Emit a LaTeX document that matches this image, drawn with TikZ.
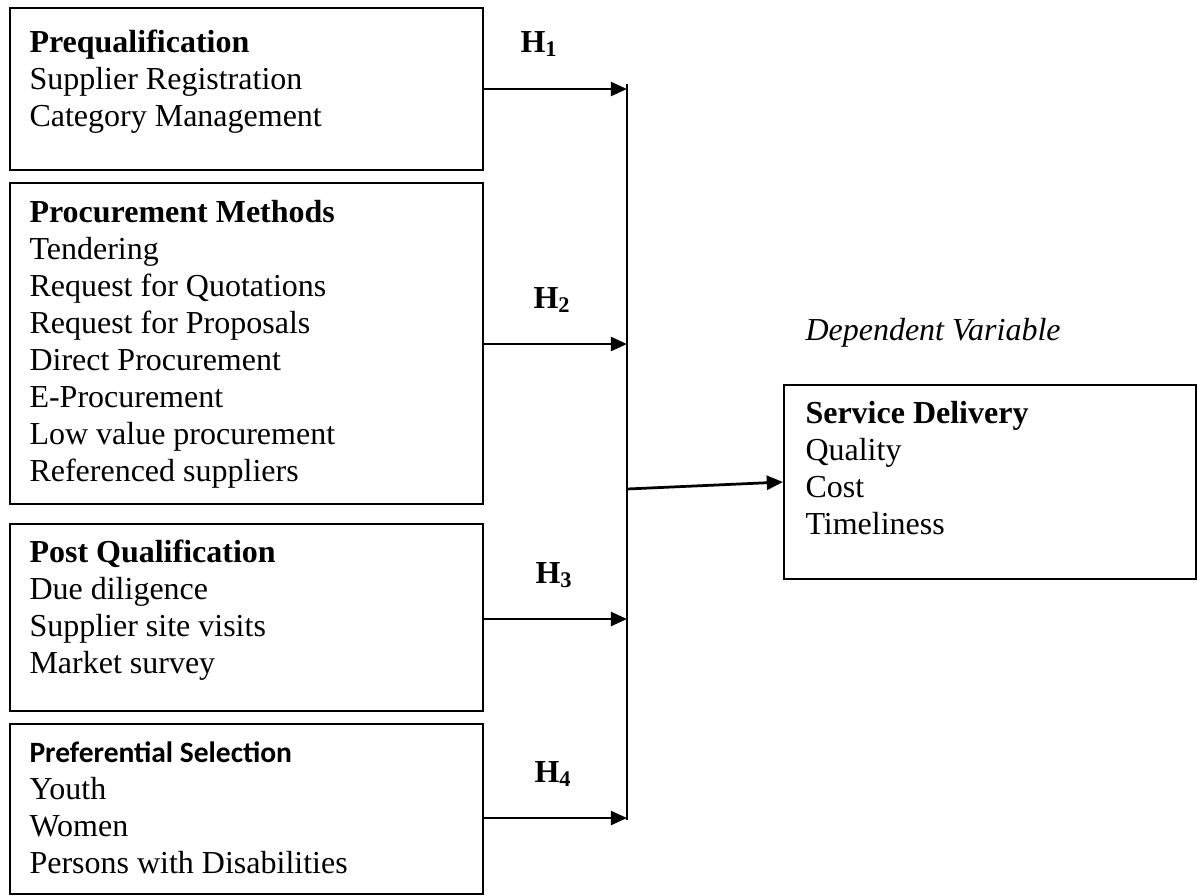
\documentclass[tikz,border=0pt]{standalone}
\usepackage{fontspec}
\setmainfont{Liberation Serif}
\newfontfamily\calibri{Carlito}
\usetikzlibrary{arrows.meta}

\begin{document}
\begin{tikzpicture}[x=0.4pt, y=-0.4pt, font=\fontsize{12.8}{14.8}\selectfont,
  box/.style={draw, line width=0.8pt, anchor=north west, inner sep=0pt},
  txt/.style={anchor=base west, align=left, inner sep=0pt},
  hyp/.style={anchor=base west, inner sep=0pt, font=\fontsize{12.8}{14.8}\selectfont\bfseries},
  arr/.style={-{Triangle[length=6.5pt,width=5.6pt]}, line width=1.1pt}]
\useasboundingbox (0,0) rectangle (1198,895);
% independent variables (text nodes sit on the baseline of their last line)
\node[box, minimum width=189.2pt, minimum height=64.8pt] (pq) at (9,7) {};
\node[box, minimum width=189.2pt, minimum height=128.4pt] (pm) at (9,182) {};
\node[box, minimum width=189.2pt, minimum height=74.8pt] (pc) at (9,523) {};
\node[box, minimum width=189.2pt, minimum height=68pt] (ps) at (9,723) {};
\node[txt] (pqt) at (29,126) {\textbf{Prequalification}\\Supplier Registration\\Category Management};
\node[txt] (pmt) at (29,481) {\textbf{Procurement Methods}\\Tendering\\Request for Quotations\\Request for Proposals\\Direct Procurement\\E-Procurement\\Low value procurement\\Referenced suppliers};
\node[txt] (pct) at (29,673) {\textbf{Post Qualification}\\Due diligence\\Supplier site visits\\Market survey};
\node[txt] (pst) at (29,873) {{\calibri\bfseries\fontsize{11.8}{14.8}\selectfont Preferential Selection}\\Youth\\Women\\Persons with Disabilities};
% dependent variable
\node[box, minimum width=164.8pt, minimum height=77.6pt] (sd) at (783,384) {};
\node[txt] (sdt) at (805,534) {\textbf{Service Delivery}\\Quality\\Cost\\Timeliness};
\node[txt] (dv) at (805,340) {\textit{Dependent Variable}};
% hypotheses
\node[hyp] (h1) at (520,52) {H\textsubscript{1}};
\node[hyp] (h2) at (533,308) {H\textsubscript{2}};
\node[hyp] (h3) at (535,583) {H\textsubscript{3}};
\node[hyp] (h4) at (534,782) {H\textsubscript{4}};
% bus line
\coordinate (bt) at (627,84);
\coordinate (bb) at (627,820);
\coordinate (b1) at (627,89);
\coordinate (b2) at (627,344);
\coordinate (b3) at (627,619);
\coordinate (b4) at (627,818);
\coordinate (bo) at (627,489);
\draw[line width=0.8pt] (bt) -- (bb);
\draw[arr] (pq.east |- b1) -- (b1);
\draw[arr] (pm.east |- b2) -- (b2);
\draw[arr] (pc.east |- b3) -- (b3);
\draw[arr] (ps.east |- b4) -- (b4);
\draw[arr] (bo) -- (sd.west);
\end{tikzpicture}
\end{document}
